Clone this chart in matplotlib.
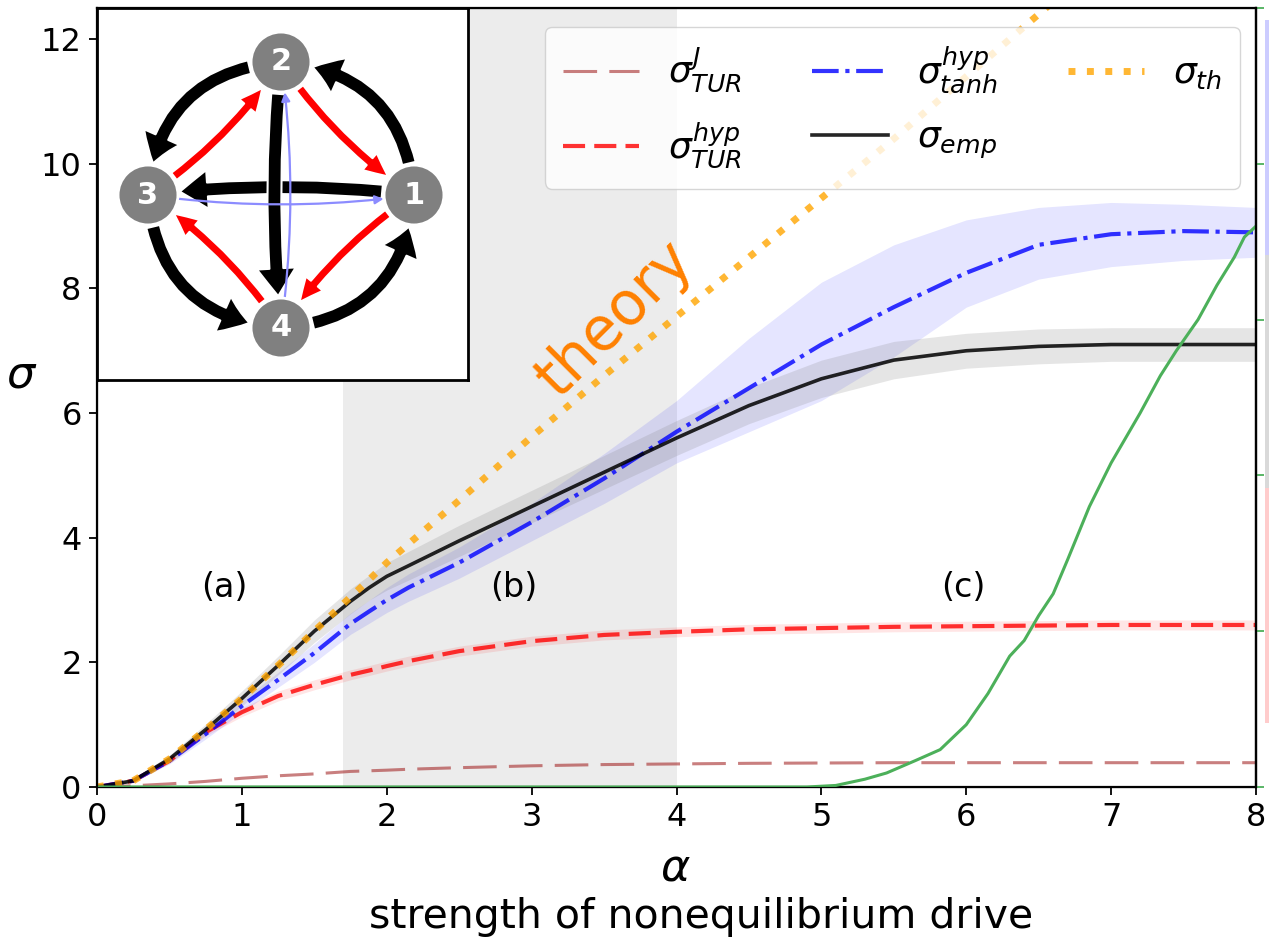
import matplotlib
matplotlib.use("Agg")
import matplotlib.pyplot as plt
from matplotlib.patches import FancyArrowPatch, Circle, Rectangle

# ---- data -----------------------------------------------------------------
alpha = [0, 0.25, 0.5, 0.75, 1.0, 1.25, 1.5, 1.75, 1.88, 2.0, 2.15, 2.5, 3.0,
         3.5, 4.0, 4.5, 5.0, 5.5, 6.0, 6.5, 7.0, 7.5, 8.0]

sigma_emp = [0, 0.1, 0.45, 0.92, 1.42, 1.95, 2.5, 2.98, 3.2, 3.38, 3.55, 3.95,
             4.5, 5.05, 5.6, 6.12, 6.55, 6.85, 7.0, 7.07, 7.1, 7.1, 7.1]
sigma_emp_err = [0, 0.03, 0.06, 0.09, 0.12, 0.15, 0.18, 0.2, 0.2, 0.22, 0.23,
                 0.25, 0.26, 0.27, 0.28, 0.29, 0.3, 0.3, 0.28, 0.28, 0.27,
                 0.27, 0.27]

sigma_tanh = [0, 0.1, 0.42, 0.85, 1.3, 1.72, 2.15, 2.62, 2.82, 3.0, 3.2, 3.6,
              4.25, 4.95, 5.7, 6.4, 7.1, 7.7, 8.25, 8.7, 8.87, 8.92, 8.9]
sigma_tanh_lo = [0, 0.08, 0.37, 0.77, 1.2, 1.6, 2.0, 2.45, 2.63, 2.8, 2.98,
                 3.35, 3.95, 4.55, 5.2, 5.7, 6.2, 6.9, 7.7, 8.15, 8.35, 8.45,
                 8.5]
sigma_tanh_hi = [0, 0.12, 0.47, 0.93, 1.4, 1.84, 2.3, 2.79, 3.0, 3.2, 3.42,
                 3.85, 4.55, 5.35, 6.2, 7.2, 8.1, 8.7, 9.1, 9.3, 9.38, 9.35,
                 9.3]

sigma_hyp = [0, 0.1, 0.42, 0.88, 1.2, 1.46, 1.64, 1.8, 1.87, 1.94, 2.02, 2.18,
             2.34, 2.44, 2.49, 2.53, 2.55, 2.57, 2.58, 2.59, 2.6, 2.6, 2.6]
sigma_hyp_err = [0, 0.02, 0.04, 0.06, 0.07, 0.08, 0.08, 0.08, 0.08, 0.08,
                 0.08, 0.08, 0.08, 0.08, 0.08, 0.08, 0.08, 0.08, 0.08, 0.08,
                 0.08, 0.08, 0.08]

sigma_J = [0, 0.02, 0.05, 0.09, 0.14, 0.18, 0.21, 0.25, 0.26, 0.27, 0.285,
           0.31, 0.34, 0.36, 0.37, 0.38, 0.385, 0.39, 0.39, 0.39, 0.39, 0.39,
           0.39]

sigma_th = [0, 0.1, 0.45, 0.92, 1.42, 1.95, 2.5, 3.05, 3.33, 3.6, 3.9, 4.6,
            5.62, 6.6, 7.55, 8.5, 9.45, 10.4, 11.4, 12.4, 13.4, 14.4, 15.4]

# green curve, right-hand axis (0..1)
alpha_green = [0, 4.9, 5.1, 5.3, 5.45, 5.65, 5.82, 6.0, 6.15, 6.3, 6.4, 6.5,
               6.6, 6.7, 6.85, 7.0, 7.1, 7.2, 7.34, 7.45, 7.6, 7.73, 7.85,
               7.92, 8.0]
green_vals = [0, 0, 0.002, 0.010, 0.018, 0.034, 0.048, 0.080, 0.120, 0.168,
              0.188, 0.220, 0.248, 0.292, 0.360, 0.416, 0.448, 0.480, 0.528,
              0.560, 0.600, 0.644, 0.680, 0.706, 0.720]

regime_span = (1.7, 4.0)
regime_labels = ["(a)", "(b)", "(c)"]
regime_label_x = [0.88, 2.88, 5.98]

x_ticks = [0, 1, 2, 3, 4, 5, 6, 7, 8]
y_ticks = [0, 2, 4, 6, 8, 10, 12]

# ---- figure ---------------------------------------------------------------
W, H = 1269, 943
fig = plt.figure(figsize=(W / 100, H / 100), dpi=100)

ax = fig.add_axes([97 / W, 1 - 787 / H, (1256 - 97) / W, (787 - 8) / H])
ax.set_xlim(0, 8)
ax.set_ylim(0, 12.5)

ax.axvspan(*regime_span, color="gray", alpha=0.15, lw=0, zorder=0)

lo = lambda v, e: [a - b for a, b in zip(v, e)]
hi = lambda v, e: [a + b for a, b in zip(v, e)]

ax.fill_between(alpha, lo(sigma_hyp, sigma_hyp_err), hi(sigma_hyp, sigma_hyp_err),
                color="red", alpha=0.1, lw=0)
ax.fill_between(alpha, sigma_tanh_lo, sigma_tanh_hi,
                color="blue", alpha=0.1, lw=0)
ax.fill_between(alpha, lo(sigma_emp, sigma_emp_err), hi(sigma_emp, sigma_emp_err),
                color="gray", alpha=0.2, lw=0)

l_J, = ax.plot(alpha, sigma_J, color="brown", alpha=0.6, lw=2.2,
               dashes=(11, 4), label=r"$\sigma^{J}_{TUR}$")
l_hyp, = ax.plot(alpha, sigma_hyp, color="red", alpha=0.8, lw=3,
                 dashes=(5.3, 2.2), label=r"$\sigma^{hyp}_{TUR}$")
l_tanh, = ax.plot(alpha, sigma_tanh, color="blue", alpha=0.8, lw=3,
                  ls="-.", label=r"$\sigma^{hyp}_{tanh}$")
l_emp, = ax.plot(alpha, sigma_emp, color="black", alpha=0.85, lw=2.6,
                 label=r"$\sigma_{emp}$")
l_th, = ax.plot(alpha, sigma_th, color="orange", alpha=0.8, lw=5,
                ls=":", label=r"$\sigma_{th}$")

for lab, xl in zip(regime_labels, regime_label_x):
    ax.text(xl, 3.2, lab, fontsize=24, ha="center", va="center")

ax.text(3.58, 7.5, "theory", fontsize=43, color="#ff8000", rotation=45,
        rotation_mode="anchor", ha="center", va="center")

ax.set_xticks(x_ticks)
ax.set_yticks(y_ticks)
ax.tick_params(labelsize=23, length=6, width=1.3, pad=5)
for s in ax.spines.values():
    s.set_linewidth(1.6)

leg = ax.legend(handles=[l_J, l_hyp, l_tanh, l_emp, l_th], ncol=3,
                loc="upper right", bbox_to_anchor=(0.986, 0.976),
                borderaxespad=0, fontsize=26, handlelength=2.1,
                handletextpad=0.8, columnspacing=1.95, labelspacing=0.7,
                borderpad=0.5, framealpha=0.8)
leg.set_zorder(20)

# right-hand axis carrying the green curve
ax2 = ax.twinx()
ax2.set_ylim(0, 1)
ax2.set_yticks([0, 0.2, 0.4, 0.6, 0.8, 1.0])
ax2.tick_params(axis="y", colors="#4cb05a", length=6, width=1.3, labelright=False)
ax2.spines["right"].set_color("black")
ax2.spines["right"].set_linewidth(1.6)
ax2.plot(alpha_green, green_vals, color="#4cb05a", lw=2.2)

fig.text(22 / W, 1 - 375 / H, r"$\sigma$", fontsize=32, ha="center", va="center")
fig.text(675 / W, 1 - 868 / H, r"$\alpha$", fontsize=32, ha="center", va="center")
fig.text(701 / W, 1 - 917 / H, "strength of nonequilibrium drive", fontsize=29.5,
         ha="center", va="center")

# strip of the neighbouring panel at the right edge
for y0, y1, c in [(20, 255, "#ccccff"), (255, 488, "#d9d9d9"), (488, 723, "#ffcccc")]:
    fig.patches.append(Rectangle((1265 / W, 1 - y1 / H), 6 / W, (y1 - y0) / H,
                                 transform=fig.transFigure, color=c, lw=0))

# ---- network inset --------------------------------------------------------
ins = fig.add_axes([97 / W, 1 - 380 / H, (468 - 97) / W, (380 - 8) / H])
ins.set_zorder(30)
ins.set_xlim(-184 / 133, (371 - 184) / 133)
ins.set_ylim(-(372 - 187) / 133, 187 / 133)
ins.set_xticks([])
ins.set_yticks([])
for s in ins.spines.values():
    s.set_linewidth(2)

nodes = {1: (1, 0), 2: (0, 1), 3: (-1, 0), 4: (0, -1)}

black_style = "simple,head_length=20,head_width=28,tail_width=10"
red_style = "simple,head_length=17,head_width=16,tail_width=6.5"


def arrow(a, b, rad, style, color, shrink=23, lw=1.5, ec="white"):
    p = FancyArrowPatch(nodes[a], nodes[b], connectionstyle=f"arc3,rad={rad}",
                        arrowstyle=style, mutation_scale=1, fc=color, ec=ec,
                        lw=lw, shrinkA=shrink, shrinkB=shrink, zorder=3)
    ins.add_patch(p)


for a, b in [(1, 2), (2, 3), (3, 4), (4, 1)]:
    arrow(a, b, 0.42, black_style, "black")
for a, b in [(2, 1), (3, 2), (4, 3), (1, 4)]:
    arrow(a, b, 0.1, red_style, "red")
arrow(1, 3, 0.06, black_style, "black")
arrow(2, 4, 0.05, black_style, "black")
for a, b in [(3, 1), (4, 2)]:
    p = FancyArrowPatch(nodes[a], nodes[b], connectionstyle="arc3,rad=0.07",
                        arrowstyle="-|>,head_length=5,head_width=2.5",
                        mutation_scale=1, color="#8c8cff", lw=1.6,
                        shrinkA=22, shrinkB=22, zorder=4)
    ins.add_patch(p)

for k, (x, y) in nodes.items():
    ins.add_patch(Circle((x, y), 0.225, fc="#808080", ec="white", lw=2, zorder=5))
    ins.text(x, y, str(k), color="white", fontsize=22, fontweight="bold",
             ha="center", va="center", zorder=6)

fig.savefig("out.png", dpi=100)
